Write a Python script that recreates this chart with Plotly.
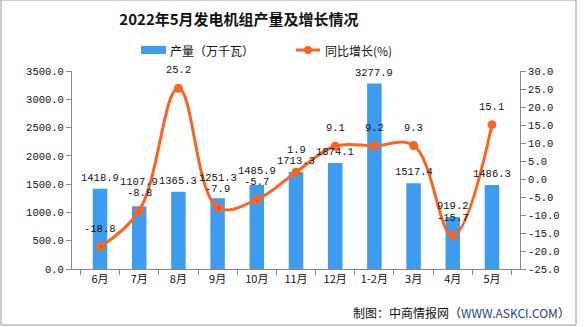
import plotly.graph_objects as go

categories = ["6月", "7月", "8月", "9月", "10月", "11月", "12月", "1-2月", "3月", "4月", "5月"]
output_vals = [1418.9, 1107.9, 1365.3, 1251.3, 1485.9, 1713.3, 1874.1, 3277.9, 1517.4, 919.2, 1486.3]
growth_vals = [-18.8, -8.8, 25.2, -7.9, -5.7, 1.9, 9.1, 9.2, 9.3, -15.7, 15.1]
left_ticks = [0, 500, 1000, 1500, 2000, 2500, 3000, 3500]
right_ticks = [-25, -20, -15, -10, -5, 0, 5, 10, 15, 20, 25, 30]
series_names = ["产量（万千瓦）", "同比增长(%)"]

W, H = 585, 327
L, R, T, B = 72, 65, 71, 58
pw, ph = W - L - R, H - T - B
Y1 = (0, 3500)
Y2 = (-25, 30)

def px(x):
    return (x - L) / pw

def py(y):
    return (H - B - y) / ph

def ypix(v, rng):
    return T + (rng[1] - v) / (rng[1] - rng[0]) * ph

BAR_C = "#3d9cf0"
LINE_C = "#fb6420"
num_font = dict(family="Liberation Mono, DejaVu Sans Mono, monospace", size=10.5, color="#111")
cjk = "Noto Sans CJK SC, sans-serif"

fig = go.Figure()
fig.add_trace(go.Bar(
    x=categories, y=output_vals, name=series_names[0],
    marker=dict(color=BAR_C, line=dict(width=0)),
    width=0.37,
))
fig.add_trace(go.Scatter(
    x=categories, y=growth_vals, name=series_names[1], yaxis="y2",
    mode="lines+markers",
    line=dict(color=LINE_C, width=3, shape="spline", smoothing=1.1),
    marker=dict(color=LINE_C, size=9),
    cliponaxis=False,
))

axis_col = "#888"
shapes = [
    dict(type="rect", xref="paper", yref="paper",
         x0=px(1), x1=px(576), y0=py(325), y1=py(0),
         line=dict(color="#999", width=1), fillcolor="rgba(0,0,0,0)"),
    dict(type="rect", xref="paper", yref="paper",
         x0=px(141), x1=px(166), y0=py(54), y1=py(46),
         line=dict(width=0), fillcolor=BAR_C),
    dict(type="line", xref="paper", yref="paper",
         x0=px(296), x1=px(320), y0=py(50), y1=py(50),
         line=dict(color=LINE_C, width=3)),
    dict(type="circle", xref="paper", yref="paper",
         x0=px(304), x1=px(312), y0=py(54), y1=py(46),
         line=dict(width=0), fillcolor=LINE_C),
]
annotations = [
    dict(text=series_names[0], xref="paper", yref="paper", x=px(168), y=py(50),
         xanchor="left", yanchor="middle", showarrow=False,
         font=dict(family=cjk, size=12, color="#111")),
    dict(text=series_names[1], xref="paper", yref="paper", x=px(323), y=py(50),
         xanchor="left", yanchor="middle", showarrow=False,
         font=dict(family=cjk, size=12, color="#111")),
    dict(text="制图：中商情报网（<span style='color:#1f3f8f'>WWW.ASKCI.COM</span>）",
         xref="paper", yref="paper", x=px(572), y=py(312),
         xanchor="right", yanchor="middle", showarrow=False,
         font=dict(family=cjk, size=12, color="#111")),
]

GAP = 11
for c, bv, gv in zip(categories, output_vals, growth_vals):
    bar_top = ypix(bv, Y1)
    pt = ypix(gv, Y2)
    bar_lab = bar_top - 11
    line_lab = pt - 18
    if abs(bar_lab - line_lab) < GAP:
        if bar_top < pt - 1:
            bar_lab = line_lab - GAP
        else:
            line_lab = bar_lab - GAP
    annotations.append(dict(
        text=f"{bv:.1f}", x=c, y=bv, xref="x", yref="y",
        xanchor="center", yanchor="middle", yshift=bar_top - bar_lab, showarrow=False,
        font=num_font))
    annotations.append(dict(
        text=f"{gv:.1f}", x=c, y=gv, xref="x", yref="y2",
        xanchor="center", yanchor="middle", yshift=pt - line_lab, showarrow=False,
        font=num_font))

fig.update_layout(
    width=W, height=H,
    margin=dict(l=L, r=R, t=T, b=B, pad=0),
    paper_bgcolor="white", plot_bgcolor="white",
    title=dict(text="<b>2022年5月发电机组产量及增长情况</b>",
               font=dict(family=cjk, size=15, color="#111"),
               x=239 / W, xanchor="center", y=1 - 20 / H, yanchor="middle"),
    showlegend=False,
    bargap=0.6,
    xaxis=dict(type="category", showgrid=False, showline=True, linecolor=axis_col,
               linewidth=1, ticks="outside", tickson="boundaries", ticklen=5,
               tickcolor=axis_col,
               tickfont=dict(family=cjk, size=11, color="#111")),
    yaxis=dict(range=list(Y1), tickvals=left_ticks,
               ticktext=[f"{v:.1f}" for v in left_ticks],
               showgrid=False, showline=True, linecolor=axis_col, linewidth=1,
               ticks="outside", ticklen=5, tickcolor=axis_col, zeroline=False,
               tickfont=num_font),
    yaxis2=dict(range=list(Y2), tickvals=right_ticks,
                ticktext=[f"{v:.1f}" for v in right_ticks],
                overlaying="y", side="right",
                showgrid=False, showline=True, linecolor=axis_col, linewidth=1,
                ticks="outside", ticklen=5, tickcolor=axis_col, zeroline=False,
                tickfont=num_font),
    shapes=shapes,
    annotations=annotations,
)

fig.write_html("out.html")
